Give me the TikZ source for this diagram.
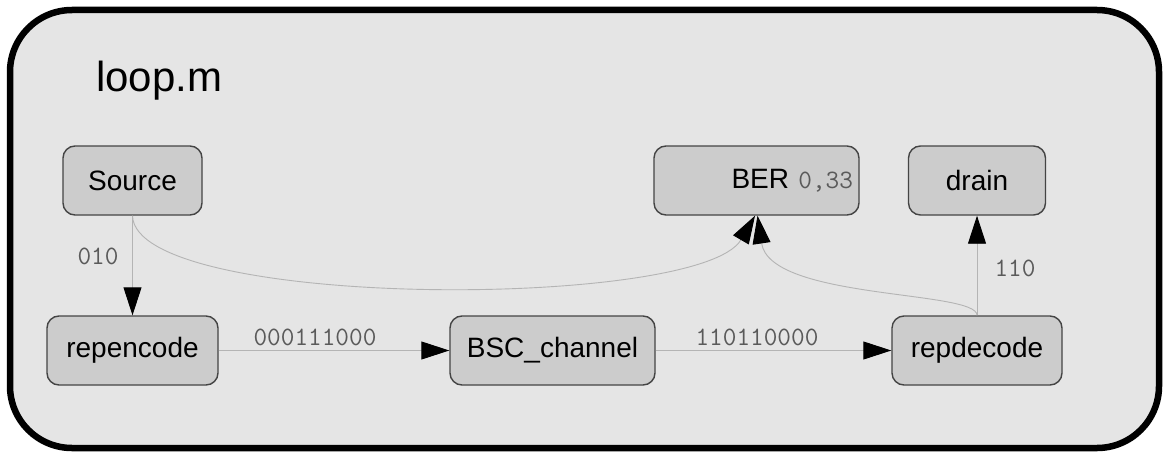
\documentclass[tikz,border=0pt]{standalone}
\usepackage{fontspec}
\setmainfont{Liberation Sans}
\usetikzlibrary{arrows.meta,calc}
\definecolor{framebg}{HTML}{E5E5E5}
\definecolor{nodebg}{HTML}{CCCCCC}
\definecolor{nodeline}{HTML}{444444}
\definecolor{edgecol}{HTML}{B4B4B4}
\definecolor{labelcol}{HTML}{5A5A5A}
\begin{document}
\begin{tikzpicture}[x=1pt,y=-1pt,
  block/.style={draw=nodeline, fill=nodebg, line width=1.4pt, rounded corners=12pt,
    minimum height=69pt, inner sep=0pt, font=\fontsize{28}{30}\selectfont},
  conn/.style={draw=edgecol, line width=0.9pt, -{Triangle[length=28pt,width=18pt,color=black]}},
  lbl/.style={text=labelcol, font=\ttfamily\fontsize{26.5}{28}\selectfont, inner sep=0pt}]
\useasboundingbox (0,0) rectangle (1164,452);
\path[fill=white] (0,0) rectangle (1164,452);
\draw[line width=6.5pt, fill=framebg, rounded corners=62pt] (10,10) rectangle (1159,448);
\node[anchor=base west, inner sep=0pt, font=\fontsize{42}{46}\selectfont] (title) at (96,92) {loop.m};

\node[block, minimum width=139pt] (src) at (132.5,180.5) {Source};
\node[block, minimum width=205pt, text width=193pt, inner xsep=6pt, align=right] (ber) at (756.5,180.5)
  {BER {\color{labelcol}\ttfamily\fontsize{26.5}{28}\selectfont 0,33}};
\node[block, minimum width=137pt] (drain) at (977,180.5) {drain};
\node[block, minimum width=171pt] (renc) at (132.5,350.5) {repencode};
\node[block, minimum width=205pt] (bsc) at (552.5,350.5) {BSC\_channel};
\node[block, minimum width=170pt] (rdec) at (977,350.5) {repdecode};

\draw[conn] (src.south) -- (renc.north);
\draw[conn] (renc.east) -- (bsc.west);
\draw[conn] (bsc.east) -- (rdec.west);
\draw[conn] (rdec.north) -- (drain.south);
\draw[conn] (src.south) .. controls (135,310) and (700,310) .. ($(ber.south)+(-1.5,0)$);
\draw[conn] (rdec.north) .. controls (977,290) and (770,300) .. ($(ber.south)+(1,0)$);

\node[lbl] (l1) at (98,256) {010};
\node[lbl] (l2) at (315,337) {000111000};
\node[lbl] (l3) at (757,337) {110110000};
\node[lbl] (l4) at (1015,268) {110};
\end{tikzpicture}
\end{document}
